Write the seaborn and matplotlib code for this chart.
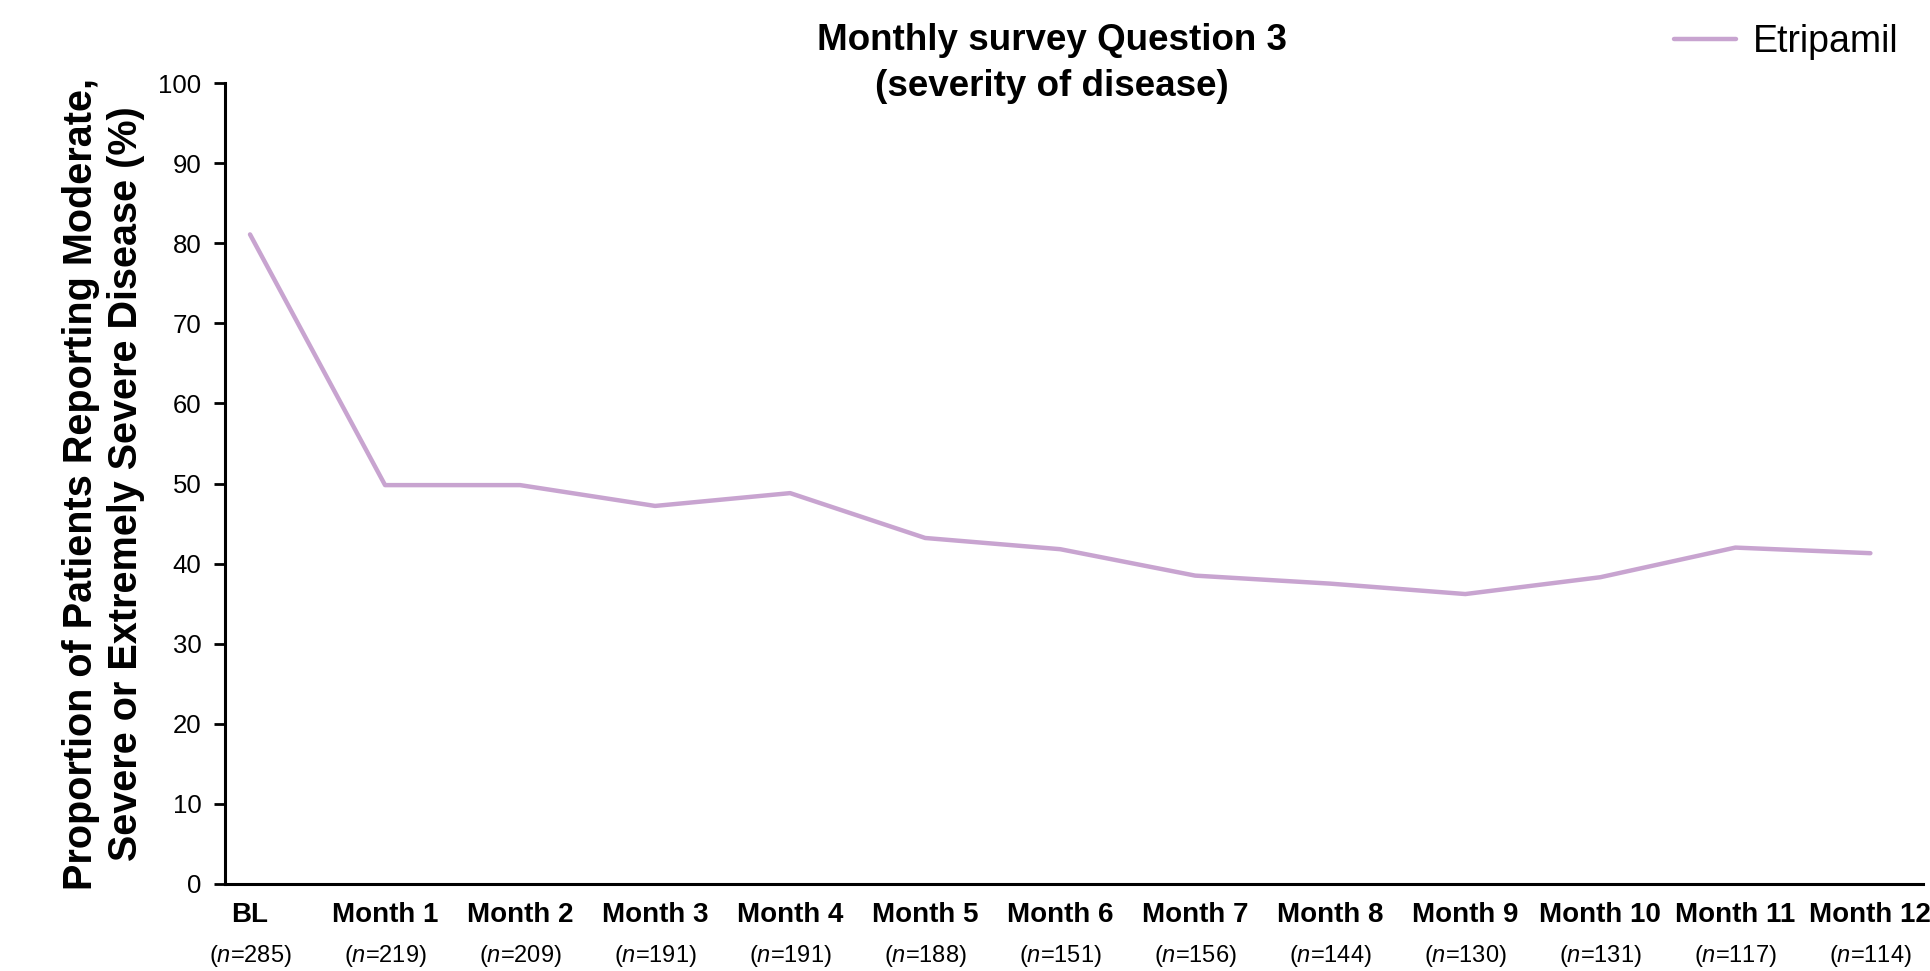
import matplotlib
matplotlib.use("Agg")
import matplotlib.pyplot as plt
import seaborn as sns
import pandas as pd

categories = ["BL", "Month 1", "Month 2", "Month 3", "Month 4", "Month 5", "Month 6",
              "Month 7", "Month 8", "Month 9", "Month 10", "Month 11", "Month 12"]
n_values = [285, 219, 209, 191, 191, 188, 151, 156, 144, 130, 131, 117, 114]
etripamil = [81.1, 49.8, 49.8, 47.2, 48.8, 43.2, 41.8, 38.5, 37.5, 36.2, 38.3, 42.0, 41.3]
y_ticks = [0, 10, 20, 30, 40, 50, 60, 70, 80, 90, 100]
series_name = "Etripamil"

sns.set_theme(style="white")
plt.rcParams['font.family'] = ['Liberation Sans', 'DejaVu Sans']
plt.rcParams['mathtext.fontset'] = 'custom'
plt.rcParams['mathtext.rm'] = 'Liberation Sans'
plt.rcParams['mathtext.it'] = 'Liberation Sans:italic'
for k in ['text.color', 'axes.labelcolor', 'xtick.color', 'ytick.color']:
    plt.rcParams[k] = 'black'

df = pd.DataFrame({"x": list(range(len(categories))), "y": etripamil,
                   "series": [series_name] * len(categories)})

fig = plt.figure(figsize=(19.3, 9.71), dpi=100)
ax = fig.add_axes([0.1166, 0.0896, 0.8798, 0.8249])

color = "#C8A4D0"
sns.lineplot(data=df, x="x", y="y", hue="series", palette=[color], lw=3.2, ax=ax,
             legend=False)

ax.set_ylim(0, 100)
ax.set_xlim(-0.185, 12.39)
ax.set_yticks(y_ticks)
ax.set_yticklabels([str(v) for v in y_ticks], fontsize=18.5)
ax.set_xticks(range(len(categories)))
ax.set_xticklabels(categories, fontsize=20, fontweight='bold')
ax.tick_params(axis='y', length=8, width=2, direction='out', pad=9, color='black', left=True)
ax.tick_params(axis='x', length=0, pad=13)
ax.set_xlabel("")

for s in ["top", "right"]:
    ax.spines[s].set_visible(False)
for s in ["left", "bottom"]:
    ax.spines[s].set_color("black")
    ax.spines[s].set_linewidth(2.2)

trans = ax.get_xaxis_transform()
for i, n in enumerate(n_values):
    ax.text(i, -0.09, r"($\mathit{n}$=%d)" % n, transform=trans, ha='center', va='center',
            fontsize=17)

ax.set_ylabel("Proportion of Patients Reporting Moderate,\nSevere or Extremely Severe Disease (%)",
              fontsize=28.5, fontweight='bold', linespacing=1.25)
ax.yaxis.set_label_coords(-0.047, 0.5)

fig.text(0.545, 0.976, "Monthly survey Question 3\n(severity of disease)", ha='center', va='top',
         fontsize=26.5, fontweight='bold', linespacing=1.38)

handle = plt.Line2D([], [], color=color, lw=3.2)
leg = fig.legend([handle], [series_name], loc='upper right', bbox_to_anchor=(1.001, 1.01),
                 frameon=False, fontsize=27, handlelength=1.65, handletextpad=0.45)

fig.savefig("out.png", dpi=100)
